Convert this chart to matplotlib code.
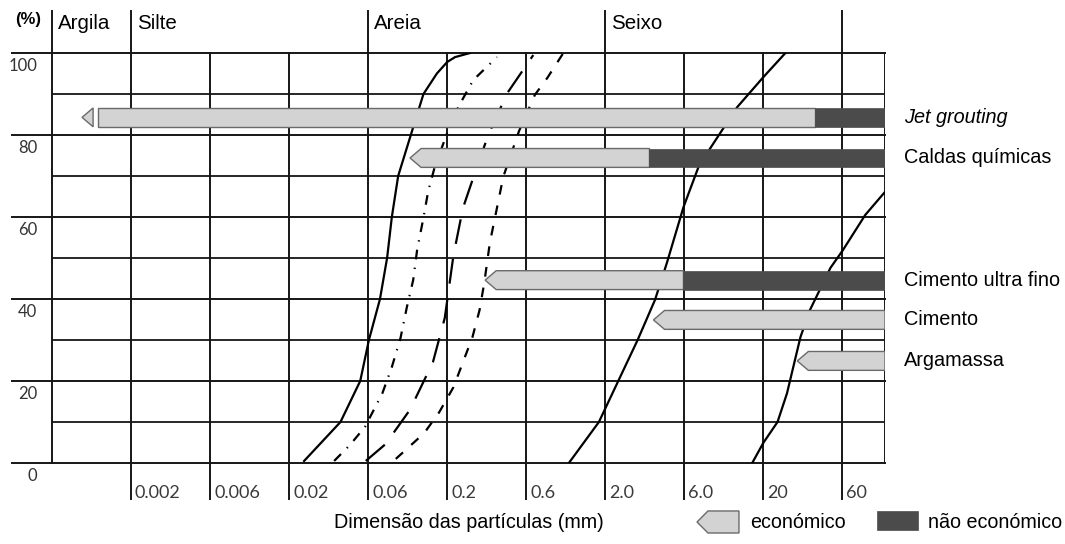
import numpy as np
import matplotlib.pyplot as plt
import matplotlib.transforms as mtransforms
from matplotlib.patches import Polygon, Rectangle

plt.rcParams['font.family'] = ['Liberation Sans', 'DejaVu Sans']
plt.rcParams['lines.scale_dashes'] = False

# x positions are column indices: 0 = left edge, 1..10 = tick lines
tick_labels = ['0.002', '0.006', '0.02', '0.06', '0.2', '0.6', '2.0', '6.0', '20', '60']
tick_pos = np.arange(1, 11)
x_max = 10.54
zone_labels = ['Argila', 'Silte', 'Areia', 'Seixo', '']
zone_pos = [0, 1, 4, 7, 10]

# grading curves (x index, % passing)
c1_x = [3.19, 3.65, 3.90, 4.01, 4.15, 4.24, 4.30, 4.38, 4.54, 4.70, 4.87, 5.00, 5.10, 5.29]
c1_y = [0.5, 10, 20, 30, 40, 50, 60, 70, 80, 90, 95, 97.8, 99, 100]
c2_x = [3.57, 3.77, 3.96, 4.18, 4.30, 4.41, 4.49, 4.57, 4.62, 4.70, 4.76, 4.84, 5.00, 5.14, 5.33, 5.63]
c2_y = [0.5, 4.4, 8.8, 17, 23.4, 30.5, 38, 44.6, 52, 59.8, 66.3, 72, 80.5, 86.8, 93.4, 99]
c3_x = [3.97, 4.22, 4.53, 4.82, 4.97, 5.08, 5.20, 5.32, 5.52, 5.76, 6.09]
c3_y = [0.5, 4.6, 13, 24.6, 35.4, 50.7, 62.2, 69, 80, 90.2, 99.5]
c4_x = [4.35, 4.71, 4.90, 5.08, 5.20, 5.32, 5.41, 5.47, 5.54, 5.63, 5.71, 5.91, 6.11, 6.27, 6.47]
c4_y = [1, 7.3, 12.4, 18.5, 24.6, 30.7, 37.3, 44, 53.7, 62.2, 69.8, 81, 89.8, 94, 100]
c5_x = [6.54, 6.92, 7.16, 7.41, 7.63, 7.78, 7.99, 8.18, 8.33, 8.67, 9.00, 9.28]
c5_y = [0, 10, 19.8, 30, 39.8, 48.8, 62.4, 72.2, 76.8, 86.8, 94.1, 100]
c6_x = [8.86, 9.00, 9.18, 9.30, 9.47, 9.59, 9.85, 10.01, 10.29, 10.53]
c6_y = [0, 4.9, 10, 17, 30.7, 37.3, 47.6, 52, 60.5, 65.9]

# injection methods: arrow tip, end of economic part, end of bar
methods = ['Jet grouting', 'Caldas químicas', 'Cimento ultra fino', 'Cimento', 'Argamassa']
bar_y = [84.3, 74.4, 44.6, 34.9, 24.9]
bar_start = [0.38, 4.53, 5.48, 7.61, 9.43]
bar_split = [9.65, 7.56, 7.99, 10.54, 10.54]
bar_end = [10.54, 10.54, 10.54, 10.54, 10.54]

light = '#d3d3d3'
dark = '#4b4b4b'
edge = '#6a6a6a'
gcol = '#161616'

fig = plt.figure(figsize=(10.65, 5.44), dpi=100)
ax = fig.add_axes([52 / 1065, 81 / 544, 833 / 1065, 410 / 544])
ax.set_xlim(0, x_max)
ax.set_ylim(0, 100)
ax.axis('off')
ty = mtransforms.blended_transform_factory(ax.transAxes, ax.transData)
tx = mtransforms.blended_transform_factory(ax.transData, ax.transAxes)

# grid
for v in range(0, 101, 10):
    if v % 20 == 0:
        ax.plot([-0.048, 1], [v, v], transform=ty, color=gcol, lw=1.4, clip_on=False, zorder=1)
        ax.text(-0.018, v - 3.2, str(v), transform=ty, ha='right', va='center',
                fontsize=12, color='#333333', family=['Lato', 'DejaVu Sans'])
    else:
        ax.axhline(v, color=gcol, lw=1.3, zorder=1)
ax.axvline(0, ymin=0, ymax=1.1024, color=gcol, lw=1.4, clip_on=False, zorder=1)
ax.axvline(x_max, color=gcol, lw=1.4, zorder=1)
for p, lab in zip(tick_pos, tick_labels):
    top = 1.1024 if p in zone_pos else 1
    ax.axvline(p, ymin=-0.0878, ymax=top, color=gcol, lw=1.4, clip_on=False, zorder=1)
    ax.text(p + 0.05, -0.073, lab, transform=tx, ha='left', va='center',
            fontsize=13, color='#3a3a3a', family=['Lato', 'DejaVu Sans'])
for p, lab in zip(zone_pos, zone_labels):
    ax.text(p + 0.075, 1.073, lab, transform=tx, ha='left', va='center', fontsize=14.8)
ax.text(-0.0288, 1.0805, '(%)', transform=ax.transAxes, ha='center', va='center',
        fontsize=12, fontweight='bold')

# curves
ax.plot(c1_x, c1_y, color='black', lw=1.6, zorder=2)
ax.plot(c2_x, c2_y, color='black', lw=1.6, zorder=2, linestyle=(0, (7, 6, 1, 6)))
ax.plot(c3_x, c3_y, color='black', lw=1.6, zorder=2, linestyle=(0, (18, 11)))
ax.plot(c4_x, c4_y, color='black', lw=1.6, zorder=2, linestyle=(0, (7, 8)))
ax.plot(c5_x, c5_y, color='black', lw=1.6, zorder=2)
ax.plot(c6_x, c6_y, color='black', lw=1.6, zorder=2)

# bars
hh = 2.3
head = 0.14
for i, name in enumerate(methods):
    y0, x0, xs, xe = bar_y[i], bar_start[i], bar_split[i], bar_end[i]
    if i == 0:
        ax.add_patch(Polygon([[x0, y0], [x0 + head, y0 + hh], [x0 + head, y0 - hh]],
                             closed=True, fc=light, ec=edge, lw=1, zorder=3))
        ax.add_patch(Rectangle((x0 + 0.2, y0 - hh), xs - x0 - 0.2, 2 * hh,
                               fc=light, ec=edge, lw=1, zorder=3))
    else:
        ax.add_patch(Polygon([[x0, y0], [x0 + head, y0 + hh], [xs, y0 + hh],
                              [xs, y0 - hh], [x0 + head, y0 - hh]],
                             closed=True, fc=light, ec=edge, lw=1, zorder=3))
    if xe > xs:
        ax.add_patch(Rectangle((xs, y0 - hh), xe - xs, 2 * hh, fc=dark, ec=dark, lw=0.5, zorder=3))
    ax.text(1.0228, y0, name, transform=ty, ha='left', va='center', fontsize=14.3,
            style='italic' if i == 0 else 'normal')

# bottom text and legend
ax.text(0.5, -0.146, 'Dimensão das partículas (mm)', transform=ax.transAxes,
        ha='center', va='center', fontsize=14.2)
ax.add_patch(Polygon([[0.7743, -0.1439], [0.7875, -0.117], [0.8247, -0.117],
                      [0.8247, -0.1707], [0.7875, -0.1707]], closed=True,
                     transform=ax.transAxes, fc=light, ec=edge, lw=1, clip_on=False))
ax.text(0.838, -0.146, 'económico', transform=ax.transAxes, ha='left', va='center', fontsize=14.2)
ax.add_patch(Rectangle((0.9904, -0.1634), 0.0492, 0.0464, transform=ax.transAxes,
                       fc=dark, ec=dark, lw=0.5, clip_on=False))
ax.text(1.0516, -0.146, 'não económico', transform=ax.transAxes, ha='left', va='center', fontsize=14.2)

fig.savefig('out.png', dpi=100)
